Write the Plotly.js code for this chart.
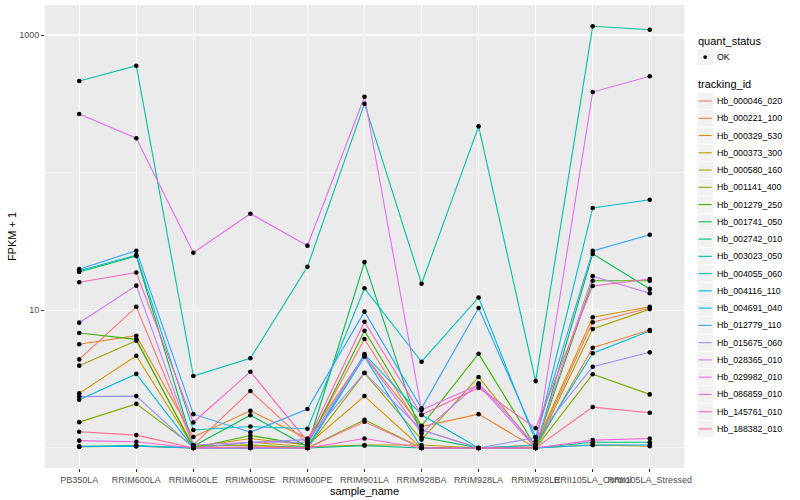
<!DOCTYPE html>
<html>
<head>
<meta charset="utf-8">
<script src="https://cdn.plot.ly/plotly-3.0.1.min.js"></script>
<style>html,body{margin:0;padding:0;background:#fff;}#chart{width:800px;height:500px;}</style>
</head>
<body>
<div id="chart"></div>
<script>
// Samples (x categories)
const samples = ["PB350LA", "RRIM600LA", "RRIM600LE", "RRIM600SE", "RRIM600PE", "RRIM901LA",
  "RRIM928BA", "RRIM928LA", "RRIM928LE", "RRII105LA_Control", "RRII105LA_Stressed"];

// Series: FPKM + 1, one array per tracking_id (same order as samples)
const Hb_000046_020 = [4.4, 10.6, 1.05, 2.59, 1.08, 6.19, 1.35, 1.0, 1.02, 8.18, 10.4];
const Hb_000221_100 = [5.66, 6.54, 1.2, 1.86, 1.17, 4.7, 1.43, 1.76, 1.0, 5.35, 7.19];
const Hb_000329_530 = [2.49, 4.68, 1.02, 1.17, 1.05, 2.38, 1.0, 1.0, 1.05, 8.9, 10.6];
const Hb_000373_300 = [1.02, 1.03, 1.0, 1.1, 1.02, 1.05, 1.05, 1.0, 1.0, 1.05, 1.03];
const Hb_000580_160 = [3.96, 6.01, 1.03, 1.05, 1.0, 3.5, 1.15, 3.28, 1.0, 7.31, 10.2];
const Hb_001141_400 = [1.54, 2.09, 1.03, 1.05, 1.0, 1.6, 1.0, 1.0, 1.0, 3.43, 2.45];
const Hb_001279_250 = [6.84, 6.15, 1.0, 1.23, 1.05, 7.11, 1.45, 4.84, 1.02, 16.4, 16.4];
const Hb_001741_050 = [19.0, 24.8, 1.03, 1.73, 1.02, 22.4, 1.2, 1.0, 1.0, 25.7, 14.3];
const Hb_002742_010 = [1.03, 1.04, 1.0, 1.0, 1.0, 1.04, 1.0, 1.0, 1.0, 1.1, 1.1];
const Hb_003023_050 = [463, 598, 3.33, 4.48, 20.7, 317, 15.6, 217, 3.06, 1157, 1093];
const Hb_004055_060 = [19.4, 25.2, 1.35, 1.43, 1.38, 14.45, 4.23, 12.4, 1.12, 55.4, 63.6];
const Hb_004116_110 = [2.24, 3.45, 1.0, 1.0, 1.02, 4.8, 1.74, 1.0, 1.05, 4.87, 7.07];
const Hb_004691_040 = [1.02, 1.03, 1.0, 1.0, 1.0, 4.6, 1.0, 1.0, 1.0, 1.05, 1.05];
const Hb_012779_110 = [19.9, 27.1, 1.76, 1.30, 1.92, 9.78, 1.94, 10.4, 1.2, 27.0, 35.4];
const Hb_015675_060 = [2.36, 2.38, 1.0, 1.1, 1.15, 3.52, 1.35, 1.0, 1.19, 3.89, 4.95];
const Hb_028365_010 = [8.13, 15.1, 1.05, 1.1, 1.1, 4.65, 1.28, 2.95, 1.05, 17.7, 13.3];
const Hb_029982_010 = [267, 178, 26.2, 50.3, 29.5, 356, 1.89, 2.87, 1.0, 385, 501];
const Hb_086859_010 = [1.13, 1.11, 1.0, 1.0, 1.0, 1.17, 1.0, 1.0, 1.0, 1.14, 1.17];
const Hb_145761_010 = [15.97, 18.8, 1.53, 3.58, 1.12, 8.26, 1.74, 2.74, 1.39, 15.0, 16.9];
const Hb_188382_010 = [1.31, 1.24, 1.0, 1.02, 1.0, 1.55, 1.0, 1.0, 1.0, 1.98, 1.80];

const trackingIds = ["Hb_000046_020", "Hb_000221_100", "Hb_000329_530", "Hb_000373_300", "Hb_000580_160",
  "Hb_001141_400", "Hb_001279_250", "Hb_001741_050", "Hb_002742_010", "Hb_003023_050",
  "Hb_004055_060", "Hb_004116_110", "Hb_004691_040", "Hb_012779_110", "Hb_015675_060",
  "Hb_028365_010", "Hb_029982_010", "Hb_086859_010", "Hb_145761_010", "Hb_188382_010"];
const seriesValues = [Hb_000046_020, Hb_000221_100, Hb_000329_530, Hb_000373_300, Hb_000580_160,
  Hb_001141_400, Hb_001279_250, Hb_001741_050, Hb_002742_010, Hb_003023_050,
  Hb_004055_060, Hb_004116_110, Hb_004691_040, Hb_012779_110, Hb_015675_060,
  Hb_028365_010, Hb_029982_010, Hb_086859_010, Hb_145761_010, Hb_188382_010];

const quantStatus = "OK";
const yTickVals = [10, 1000];
const yMinorVals = [1, 100];

// ggplot2 hue palette (20 levels)
const palette = ["#F8766D", "#EA8331", "#D89000", "#C09B00", "#A3A500", "#7CAE00", "#39B600", "#00BB4E",
  "#00BF7D", "#00C1A3", "#00BFC4", "#00BAE0", "#00B0F6", "#35A2FF", "#9590FF", "#C77CFF",
  "#E76BF3", "#FA62DB", "#FF62BC", "#FF6C91"];

const traces = [];
trackingIds.forEach((id, i) => {
  traces.push({
    type: 'scatter', mode: 'lines', name: id, x: samples, y: seriesValues[i],
    line: {color: palette[i], width: 1.1}, showlegend: false, hoverinfo: 'skip'
  });
});
const allX = [], allY = [];
seriesValues.forEach(vals => vals.forEach((v, j) => { allX.push(samples[j]); allY.push(v); }));
traces.push({
  type: 'scatter', mode: 'markers', name: quantStatus, x: allX, y: allY,
  marker: {color: '#000', size: 4.6}, showlegend: false, hoverinfo: 'skip'
});

// --- ggplot-like legend built from shapes and annotations (paper coords derived from pixels)
const M = {l: 45, r: 116, t: 5, b: 32};
const W = 800, H = 500;
const pw = W - M.l - M.r, ph = H - M.t - M.b;
const px = v => (v - M.l) / pw;
const py = v => (H - M.b - v) / ph;
const font = "Liberation Sans, Arial, Helvetica, sans-serif";

const shapes = [], annotations = [];
function title(text, yc) {
  annotations.push({xref: 'paper', yref: 'paper', x: px(696), y: py(yc), xanchor: 'left', yanchor: 'middle',
    text: text, showarrow: false, font: {size: 11, color: '#000', family: font}});
}
function label(text, yc) {
  annotations.push({xref: 'paper', yref: 'paper', x: px(715), y: py(yc), xanchor: 'left', yanchor: 'middle',
    text: text, showarrow: false, font: {size: 8.8, color: '#000', family: font}});
}
function keyBox(yc) {
  shapes.push({type: 'rect', xref: 'paper', yref: 'paper', x0: px(697.3), x1: px(713), y0: py(yc - 8.1), y1: py(yc + 8.1),
    fillcolor: '#F2F2F2', line: {width: 0}, layer: 'above'});
}
title('quant_status', 40.7);
keyBox(57);
shapes.push({type: 'circle', xref: 'paper', yref: 'paper', x0: px(703.3), x1: px(707), y0: py(55.2), y1: py(58.9),
  fillcolor: '#000', line: {width: 0}, layer: 'above'});
label(quantStatus, 57);
title('tracking_id', 84.3);
const step = 17.26;
trackingIds.forEach((id, i) => {
  const yc = 101 + i * step;
  keyBox(yc);
  shapes.push({type: 'line', xref: 'paper', yref: 'paper', x0: px(698.5), x1: px(711.8), y0: py(yc), y1: py(yc),
    line: {color: palette[i], width: 1.1}, layer: 'above'});
  label(id, yc);
});

const layout = {
  width: W, height: H,
  margin: {l: M.l, r: M.r, t: M.t, b: M.b, pad: 0},
  paper_bgcolor: '#fff', plot_bgcolor: '#EBEBEB',
  font: {family: font, color: '#000'},
  showlegend: false,
  shapes: shapes, annotations: annotations,
  xaxis: {
    type: 'category', categoryorder: 'array', categoryarray: samples,
    range: [-0.6, 10.6], showgrid: true, gridcolor: '#fff', gridwidth: 1.1,
    zeroline: false, showline: false, tickangle: 0,
    ticks: 'outside', ticklen: 3, tickcolor: '#333', tickwidth: 1,
    tickfont: {size: 9, color: '#4D4D4D', family: font},
    title: {text: 'sample_name', font: {size: 11, color: '#000'}, standoff: 3},
    automargin: false, fixedrange: true
  },
  yaxis: {
    type: 'log', range: [-0.1457, 3.218],
    tickmode: 'array', tickvals: yTickVals, ticktext: yTickVals.map(String),
    showgrid: true, gridcolor: '#fff', gridwidth: 1.1,
    minor: {tickmode: 'array', tickvals: yMinorVals, showgrid: true, gridcolor: '#fff', gridwidth: 0.55, ticks: ''},
    zeroline: false, showline: false,
    ticks: 'outside', ticklen: 3, tickcolor: '#333', tickwidth: 1,
    tickfont: {size: 9, color: '#4D4D4D', family: font},
    title: {text: 'FPKM + 1', font: {size: 11, color: '#000'}, standoff: 0},
    automargin: false, fixedrange: true
  }
};
Plotly.newPlot('chart', traces, layout, {staticPlot: true, displayModeBar: false});
</script>
</body>
</html>
